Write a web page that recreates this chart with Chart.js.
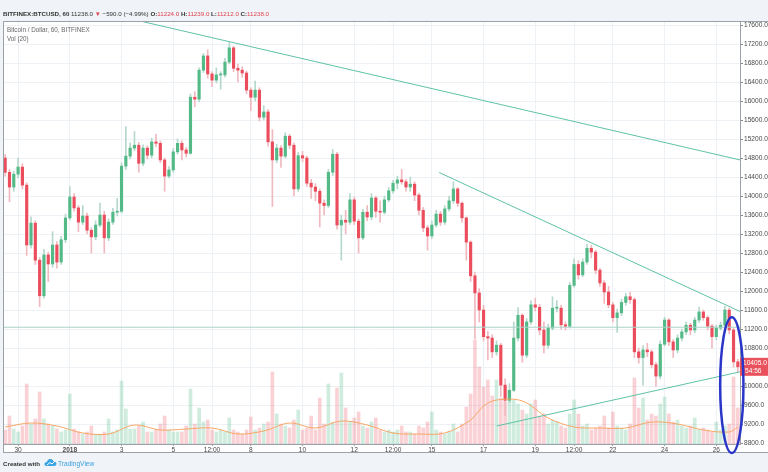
<!DOCTYPE html>
<html>
<head>
<meta charset="utf-8">
<script src="https://cdn.jsdelivr.net/npm/chart.js@4.4.0/dist/chart.umd.min.js"></script>
<style>
  body { margin: 0; background: #f0f3f7; font-family: 'Liberation Sans', Arial, sans-serif; }
  #wrap { position: relative; width: 768px; height: 472px; overflow: hidden; }
  canvas { position: absolute; left: 0; top: 0; }
  .txt { position: absolute; white-space: nowrap; font-size: 6.2px; line-height: 9px; color: #333; }
  .red { color: #e0424f; }
  .grey { color: #666; }
</style>
</head>
<body>
<div id="wrap">
  <canvas id="chart" width="768" height="472"></canvas>
  <div class="txt" style="left:3px; top:9px;">
    <b>BITFINEX:BTCUSD, 60</b> 11238.0 <span class="red">&#9660;</span> &minus;590.0 (&minus;4.99%)
    <b>O:</b><span class="red">11224.0</span> <b>H:</b><span class="red">11239.0</span>
    <b>L:</b><span class="red">11212.0</span> <b>C:</b><span class="red">11238.0</span>
  </div>
  <div class="txt grey" style="left:7px; top:25px; font-size:6.3px;">Bitcoin / Dollar, 60, BITFINEX</div>
  <div class="txt grey" style="left:7px; top:34px; font-size:6.3px;">Vol (20)</div>
  <div class="txt" style="left:3px; top:459px;"><b>Created with</b></div>
  <svg style="position:absolute; left:44px; top:458px;" width="13" height="9" viewBox="0 0 13 9">
    <path d="M3 8 Q0 8 0.5 5.5 Q1 3.5 3 4 Q3.5 0.5 7 1 Q9.5 1.5 9.5 3.5 Q12.5 3.5 12.5 6 Q12.5 8 10 8 Z" fill="#3ba5e4"/>
    <path d="M3 7 L6 4.5 L8 6 L10.5 3.5" stroke="#fff" stroke-width="1" fill="none"/>
  </svg>
  <div class="txt" style="left:58px; top:459px; font-size:6.6px; color:#3aa0e0;">TradingView</div>
</div>
<script>
// 4-hour candles from 29 Dec 12:00 to 26 Jan 20:00
const firstOpen = 14800;
const closes = [
  14500,14190,14460,14610,14230,12970,13430,12650,11900,12760,
  12570,12970,12610,13080,13540,13980,13750,13450,13580,13280,
  13140,13390,13600,13120,13450,13660,13680,14630,14840,15010,
  15070,14690,15010,14860,15140,15110,14760,14420,14550,14930,
  15110,14970,14900,16080,16040,16650,16950,16570,16440,16550,
  16550,16820,17120,16690,16650,16590,16230,16080,16230,15660,
  15770,15140,14760,15010,14840,15260,15070,14150,14850,14800,
  14270,14190,14100,13850,13800,14500,14880,13390,13490,13450,
  13920,13470,13120,13660,13560,13960,13680,13660,13920,14110,
  14270,14340,14300,14190,14250,14020,13700,13330,13160,13390,
  13620,13450,13730,13900,14150,13850,13540,13030,12320,11960,
  11600,11040,11010,10720,10860,10020,9700,9910,11010,11490,
  10650,11350,11710,11660,11180,10860,11220,11640,11640,11290,
  11260,12120,12560,12340,12610,12900,12820,12440,12170,11980,
  11710,11440,11540,11760,11880,11820,10720,10600,10760,10720,
  10450,10210,10880,11390,10930,10760,11010,11140,11280,11180,
  11390,11560,11440,11260,11040,11220,11280,11600,11180,10510,
  10405
];
const highs = [
  14880,14560,14520,14800,14680,14280,13560,13480,12700,12880,
  12820,13250,13040,13150,13620,14200,14050,13800,13800,13640,
  13330,13480,13850,13680,13520,13740,13950,14700,15460,15120,
  15360,15130,15080,15060,15220,15300,15160,14800,14620,15000,
  15200,15160,15020,16150,16200,16700,17000,17080,16620,16700,
  16620,16900,17230,17150,16780,16720,16630,16280,16420,16280,
  15900,15820,15400,15090,15060,15330,15300,15120,14920,14940,
  14840,14350,14260,14150,13920,14560,14980,14920,13600,13700,
  14050,13980,13520,13720,13800,14050,14000,13900,14000,14180,
  14330,14420,14560,14350,14400,14300,14060,13760,13380,13480,
  13700,13680,13800,14000,14300,14180,13880,13560,13060,12400,
  12050,11700,11150,11080,10950,10900,10150,10050,11350,11650,
  11520,11420,11800,11850,11720,11350,11300,11880,11800,11700,
  11350,12180,12680,12640,12680,12990,12960,12860,12480,12220,
  12100,11760,11620,11830,11950,11980,11860,10800,10850,10900,
  10760,10500,10950,11450,11420,10980,11080,11200,11350,11320,
  11450,11660,11600,11480,11300,11280,11350,11680,11640,11220,
  10560
];
const lows = [
  14420,13880,14100,14380,14150,12750,12900,12560,11670,11850,
  12200,12500,12480,12560,13020,13500,13680,13250,13400,13200,
  12800,13080,13350,12800,13060,13400,13580,13640,14560,14780,
  14950,14500,14640,14780,14800,15040,14700,14100,14380,14500,
  14880,14760,14820,14880,15880,15980,16600,16480,16300,16380,
  16250,16500,16780,16620,16400,16500,16150,15800,16000,15580,
  15600,15050,13780,14700,14600,14800,15000,14000,14100,14720,
  14200,13950,13900,13350,13600,13760,14430,13300,12650,13200,
  13400,13400,12800,13080,13480,13500,13550,13450,13620,13880,
  14060,14150,14250,14100,14100,13900,13600,13250,12860,13100,
  13350,13380,13400,13680,13850,13780,13450,12650,12200,11000,
  11350,10950,10550,10600,10650,9780,9380,9650,9880,10950,
  10500,10600,11300,11580,11080,10700,10800,11180,11560,11200,
  11180,11220,12080,12250,12300,12560,12700,12360,12100,11740,
  11650,11350,11130,11480,11700,11740,10600,10480,10020,10620,
  10380,9990,10150,10840,10850,10600,10700,10950,11080,11080,
  11120,11340,11380,11180,10800,10980,11180,11240,11100,10400,
  10300
];
const volumes = [
  14,28,15,12,18,60,20,25,52,25,
  20,18,15,12,14,50,15,12,10,12,
  18,10,10,12,25,12,14,63,35,15,
  15,18,22,12,12,14,20,28,14,12,
  12,12,18,55,20,36,22,24,14,12,
  14,12,26,14,12,10,14,27,14,16,
  20,22,72,30,20,18,16,24,34,14,
  16,28,14,46,20,60,22,56,71,36,
  22,26,32,18,16,22,26,14,12,14,
  12,14,18,12,12,10,18,16,22,32,
  14,12,10,12,20,12,20,37,50,104,
  77,57,64,48,64,46,42,54,44,40,
  34,30,40,44,28,30,20,24,22,18,
  16,30,44,30,18,20,14,16,18,28,
  16,32,18,16,14,20,66,36,46,24,
  30,28,40,47,30,22,24,18,16,18,
  26,14,16,14,12,22,14,18,20,67,
  36
];
// Vol (20) moving average, read at selected candles
const maIdx  = [0, 6, 12, 18, 24, 30, 36, 42, 48, 54, 60, 66, 72, 78, 84, 90, 96, 102, 108, 111, 114, 120, 126, 132, 138, 144, 150, 156, 162, 168, 170];
const maVals = [17, 21, 18, 11, 10, 19, 14, 15, 16, 10, 13, 21, 16, 23, 19, 11, 10, 11, 24, 38, 44, 43, 26, 17, 16, 16, 22, 20, 14, 12, 17];

const tickIdx  = [3, 15, 27, 39, 48, 57, 69, 81, 90, 99, 111, 123, 132, 141, 153, 165];
const tickText = ['30', '2018', '3', '5', '12:00', '8', '10', '12', '12:00', '15', '17', '19', '12:00', '22', '24', '26'];
const priceTicks = [8800, 9200, 9600, 10000, 10400, 10800, 11200, 11600, 12000, 12400, 12800, 13200,
                    13600, 14000, 14400, 14800, 15200, 15600, 16000, 16400, 16800, 17200, 17600];

// drawn trend lines, [candle index, price]
const trendLines = [
  [[32, 17670], [170.5, 14760]],
  [[100.7, 14495], [170.5, 11570]],
  [[114.1, 9160], [170.5, 10300]]
];
const lastLine = 11238;
const lastPrice = 10405;
const countdown = '54:56';
const circle = { x: 168.6, y: 10020, rx: 2.7, ry: 1430 };

const opens = closes.map((c, i) => i ? closes[i - 1] : firstOpen);
const isUp = i => closes[i] >= opens[i];

const UP = '#53b987', DOWN = '#eb4d5c';
const GRID = '#eef1f5';
const FONT = '"Liberation Sans", Arial, sans-serif';

const framePlugin = {
  id: 'frame',
  beforeDraw(chart) {
    const c = chart.ctx;
    c.save();
    c.fillStyle = '#ffffff';
    c.fillRect(3, 21, 765, 432);
    c.restore();
  },
  afterDraw(chart) {
    const c = chart.ctx;
    const ys = chart.scales.y, xs = chart.scales.x;
    c.save();
    c.strokeStyle = '#9aa1a8';
    c.lineWidth = 1;
    c.beginPath();
    c.moveTo(3.5, 453); c.lineTo(3.5, 21.5); c.lineTo(768, 21.5);
    c.moveTo(3, 452.5); c.lineTo(768, 452.5);
    c.moveTo(3, 444.5); c.lineTo(740, 444.5);
    c.stroke();

    // last price box
    const py = ys.getPixelForValue(lastPrice);
    c.fillStyle = '#e9525c';
    c.fillRect(740, py - 9, 28, 18);
    c.fillStyle = '#fff';
    c.font = '6.6px ' + FONT;
    c.textBaseline = 'middle';
    c.fillText(lastPrice.toFixed(1), 743, py - 4);
    c.fillText(countdown, 745, py + 4);

    // hand-drawn ellipse
    const cx = xs.getPixelForValue(circle.x), cy = ys.getPixelForValue(circle.y);
    const rx = xs.getPixelForValue(circle.x + circle.rx) - cx;
    const ry = cy - ys.getPixelForValue(circle.y + circle.ry);
    c.strokeStyle = '#2a36c8';
    c.lineWidth = 2.5;
    c.beginPath();
    c.ellipse(cx, cy, rx, ry, 0, 0, Math.PI * 2);
    c.stroke();
    c.restore();
  }
};

const lineSets = trendLines.map(l => ({
  type: 'line',
  data: l.map(p => ({ x: p[0], y: p[1] })),
  borderColor: '#5fc2a6',
  borderWidth: 1,
  pointRadius: 0,
  yAxisID: 'y',
  order: 0
}));
lineSets.push({
  type: 'line',
  data: [{ x: -0.5, y: lastLine }, { x: 170.5, y: lastLine }],
  borderColor: '#a9d3c8',
  borderWidth: 1,
  pointRadius: 0,
  yAxisID: 'y',
  order: 0
});

new Chart(document.getElementById('chart'), {
  type: 'bar',
  data: {
    datasets: [
      ...lineSets,
      {
        type: 'line',
        data: maIdx.map((x, k) => ({ x, y: maVals[k] })),
        borderColor: '#f7a766',
        borderWidth: 1,
        pointRadius: 0,
        tension: 0.35,
        yAxisID: 'v',
        order: 1
      },
      {
        data: closes.map((c, i) => ({ x: i, y: [opens[i], c] })),
        backgroundColor: ctx => isUp(ctx.dataIndex) ? UP : DOWN,
        barThickness: 2.5,
        minBarLength: 1,
        grouped: false,
        yAxisID: 'y',
        order: 2
      },
      {
        data: closes.map((c, i) => ({ x: i, y: [lows[i], highs[i]] })),
        backgroundColor: ctx => isUp(ctx.dataIndex) ? '#b5d8cc' : '#f0b9bf',
        barThickness: 1,
        grouped: false,
        yAxisID: 'y',
        order: 3
      },
      {
        data: volumes.map((v, i) => ({ x: i, y: v })),
        backgroundColor: ctx => isUp(ctx.dataIndex) ? 'rgba(83,185,135,0.28)' : 'rgba(235,77,92,0.25)',
        barThickness: 3,
        grouped: false,
        yAxisID: 'v',
        order: 4
      }
    ]
  },
  options: {
    responsive: false,
    animation: false,
    layout: { padding: { left: 3, top: 21, right: 0, bottom: 19 } },
    plugins: { legend: { display: false }, tooltip: { enabled: false } },
    scales: {
      x: {
        type: 'linear',
        offset: false,
        min: -0.5,
        max: 170.5,
        afterBuildTicks: s => { s.ticks = tickIdx.map(v => ({ value: v })); },
        afterFit: s => { s.height = 9; },
        ticks: {
          autoSkip: false,
          maxRotation: 0,
          padding: 0,
          color: '#4a4a4a',
          font: ctx => ({ size: 6.6, family: FONT,
                          weight: ctx.tick && ctx.tick.label === '2018' ? 'bold' : 'normal' }),
          callback: v => tickText[tickIdx.indexOf(v)]
        },
        grid: { color: GRID, offset: false, tickLength: 2, tickColor: '#9aa1a8' },
        border: { display: false }
      },
      y: {
        position: 'right',
        min: 8780,
        max: 17685,
        afterBuildTicks: s => { s.ticks = priceTicks.map(v => ({ value: v })); },
        afterFit: s => { s.width = 28; },
        ticks: {
          padding: 1,
          color: '#4a4a4a',
          font: { size: 6.6, family: FONT },
          callback: v => v.toFixed(1)
        },
        grid: { color: GRID, tickLength: 3, tickColor: '#8a8a8a' },
        border: { color: '#9aa1a8' }
      },
      v: {
        display: false,
        min: 0,
        max: 423
      }
    }
  },
  plugins: [framePlugin]
});
</script>
</body>
</html>
